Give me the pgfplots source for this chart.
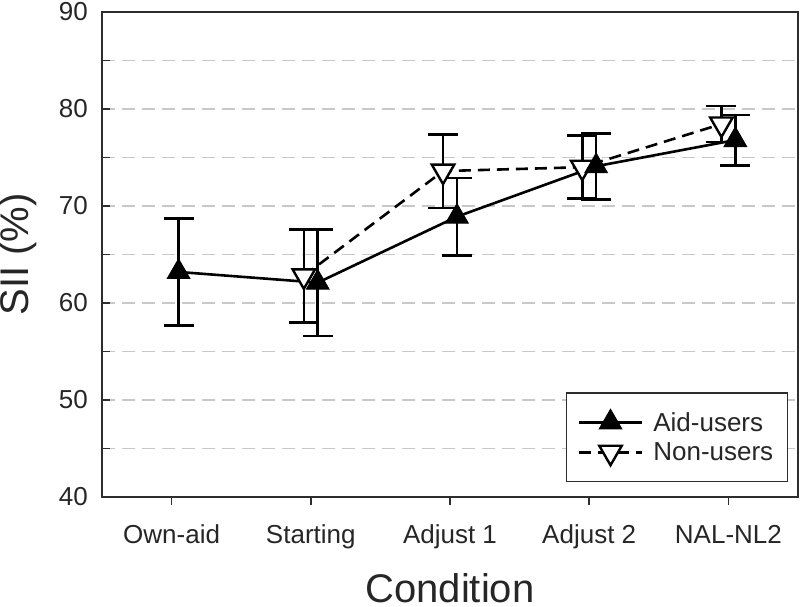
\documentclass[border=0pt]{standalone}
\usepackage{pgfplots}
\pgfplotsset{compat=1.18}
\usepackage{fontspec}
\setmainfont{Liberation Sans}
\definecolor{axgray}{RGB}{45,45,45}
\definecolor{gridgray}{RGB}{200,200,200}
\begin{document}
\begin{tikzpicture}
\begin{axis}[
  at={(0,0)}, anchor=south west,
  scale only axis, width=696pt, height=485pt,
  xmin=-0.5, xmax=4.5, ymin=40, ymax=90,
  xtick={0,1,2,3,4},
  xticklabels={Own-aid,Starting,Adjust 1,Adjust 2,NAL-NL2},
  ytick={40,50,...,90}, minor ytick={45,55,...,85},
  yticklabels={40,50,60,70,80,90},
  ymajorgrids, yminorgrids,
  major grid style={draw=gridgray, line width=1.3pt, dash pattern=on 13pt off 7pt},
  minor grid style={draw=gridgray, line width=1.3pt, dash pattern=on 13pt off 7pt},
  tick pos=left, xtick align=outside, ytick align=inside,
  major tick length=8pt, minor tick length=8pt,
  axis line style={draw=axgray, line width=1.5pt},
  tick style={draw=axgray, line width=1.5pt},
  minor tick style={draw=axgray, line width=1.5pt},
  /pgf/number format/assume math mode=true,
  tick label style={font=\fontsize{26}{30}\selectfont, text=black!85},
  yticklabel style={anchor=east, inner sep=0pt, xshift=-14pt, font=\fontsize{26}{30}\selectfont},
  xticklabel style={anchor=base, inner sep=0pt},
  xticklabel shift=0pt,
  every x tick label/.append style={yshift=-38pt},
  xlabel={Condition}, ylabel={SII (\%)},
  every axis x label/.style={at={(axis description cs:0.5,0)}, anchor=base, yshift=-105pt,
    font=\fontsize{40}{46}\selectfont, text=black!85},
  every axis y label/.style={at={(axis description cs:-0.1207,0.5)}, anchor=center, rotate=90,
    font=\fontsize{40}{46}\selectfont, text=black!85},
  reverse legend,
  legend cell align=left,
  legend style={at={(rel axis cs:1,0)}, anchor=south east, xshift=-10pt, yshift=15pt,
    draw=axgray, line width=1.5pt, font=\fontsize{26}{30}\selectfont,
    inner xsep=11pt, inner ysep=16pt, row sep=4pt, column sep=7pt,
    nodes={inner sep=3pt, text=black!85}},
  legend image code/.code={\draw[#1, mark repeat=2, mark phase=2] plot coordinates {(0pt,0pt) (31.5pt,0pt) (63pt,0pt)};},
]
% Non-users (drawn first, behind)
\addplot[black, line width=2.6pt, dash pattern=on 12pt off 7pt,
  mark=triangle*, mark size=13pt,
  mark options={solid, rotate=180, fill=white, draw=black, line width=2.4pt},
  error bars/.cd, y dir=both, y explicit,
  error bar style={solid, line width=2.6pt, black},
  error mark options={rotate=90, mark size=15pt, line width=2.6pt, black, solid}]
  table[x=x, y=y, y error=e] {
x y e
0.95 62.8 4.8
1.95 73.6 3.8
2.95 74.0 3.25
3.95 78.45 1.85
};
\addlegendentry{Non-users}
% Aid-users
\addplot[black, line width=2.6pt, solid,
  mark=triangle*, mark size=13pt,
  mark options={solid, fill=black, draw=black, line width=1pt},
  error bars/.cd, y dir=both, y explicit,
  error bar style={solid, line width=2.6pt, black},
  error mark options={rotate=90, mark size=15pt, line width=2.6pt, black, solid}]
  table[x=x, y=y, y error=e] {
x y e
0.05 63.2 5.5
1.05 62.1 5.5
2.05 68.9 4.0
3.05 74.1 3.4
4.05 76.8 2.6
};
\addlegendentry{Aid-users}
\end{axis}
\pgfresetboundingbox
\path[use as bounding box] (-102pt,-110pt) rectangle (698pt,497pt);
\end{tikzpicture}
\end{document}
